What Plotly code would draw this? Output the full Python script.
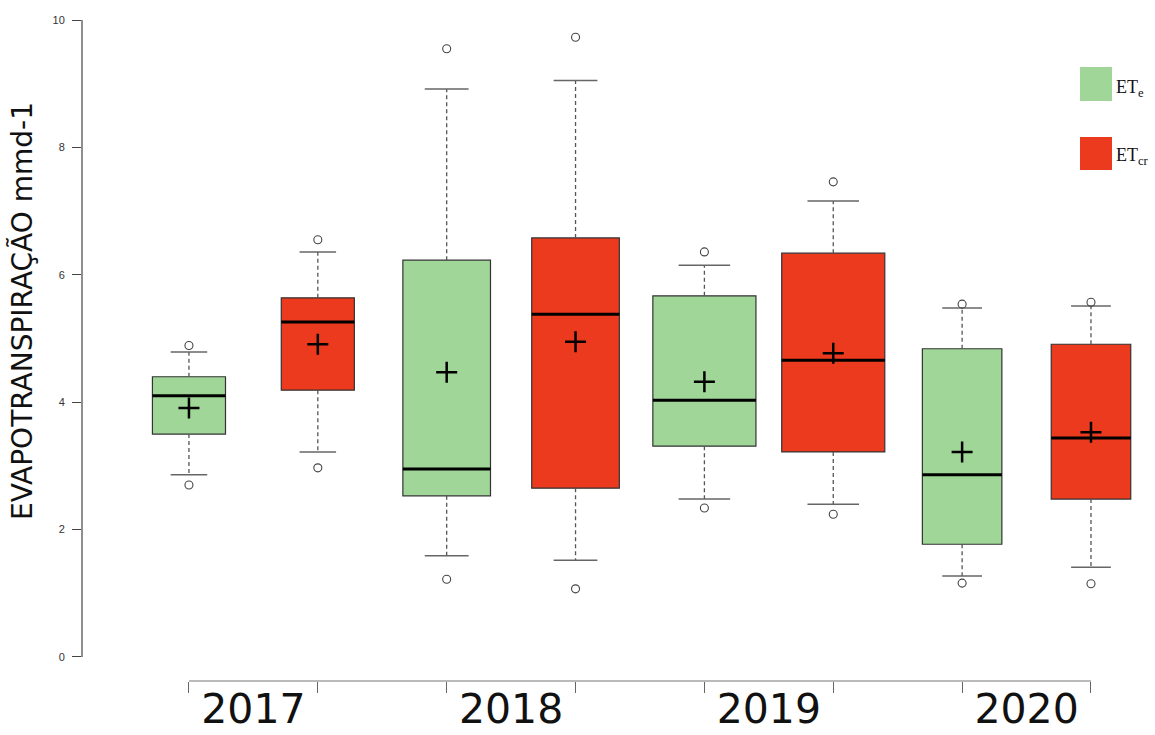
import plotly.graph_objects as go

# ---------------- data ----------------
years = ["2017", "2018", "2019", "2020"]
series_names = ["ETe", "ETcr"]

ete_q1 = [3.50, 2.53, 3.31, 1.77]
ete_median = [4.10, 2.95, 4.03, 2.86]
ete_q3 = [4.40, 6.23, 5.67, 4.84]
ete_whisker_low = [2.86, 1.59, 2.48, 1.27]
ete_whisker_high = [4.79, 8.92, 6.15, 5.48]
ete_mean = [3.91, 4.47, 4.32, 3.22]
ete_out_low = [2.70, 1.22, 2.34, 1.16]
ete_out_high = [4.89, 9.55, 6.36, 5.54]

etcr_q1 = [4.19, 2.65, 3.22, 2.48]
etcr_median = [5.26, 5.38, 4.66, 3.44]
etcr_q3 = [5.64, 6.58, 6.34, 4.91]
etcr_whisker_low = [3.22, 1.52, 2.40, 1.41]
etcr_whisker_high = [6.36, 9.05, 7.16, 5.51]
etcr_mean = [4.91, 4.95, 4.77, 3.53]
etcr_out_low = [2.97, 1.07, 2.24, 1.15]
etcr_out_high = [6.55, 9.73, 7.46, 5.57]

y_ticks = [0, 2, 4, 6, 8, 10]

# ---------------- styling / layout ----------------
box_widths = [0.567, 0.68, 0.80, 0.617]   # relative box widths per year (varwidth look)
colors = {"ETe": "#A0D798", "ETcr": "#EC3A1E"}
W, H = 1155, 735
ML, MR, MT, MB = 82, 5, 15, 54

series = {
    "ETe": dict(q1=ete_q1, med=ete_median, q3=ete_q3, wl=ete_whisker_low,
                wh=ete_whisker_high, mean=ete_mean, ol=ete_out_low, oh=ete_out_high, offset=1),
    "ETcr": dict(q1=etcr_q1, med=etcr_median, q3=etcr_q3, wl=etcr_whisker_low,
                 wh=etcr_whisker_high, mean=etcr_mean, ol=etcr_out_low, oh=etcr_out_high, offset=2),
}

fig = go.Figure()
all_pos = []
for name in series_names:
    s = series[name]
    pos = [2 * i + s["offset"] for i in range(len(years))]
    all_pos += pos
    heights = [b - a for a, b in zip(s["q1"], s["q3"])]

    # dashed whiskers
    wx, wy = [], []
    for p, a, b, lo, hi in zip(pos, s["q1"], s["q3"], s["wl"], s["wh"]):
        wx += [p, p, None, p, p, None]
        wy += [b, hi, None, a, lo, None]
    fig.add_trace(go.Scatter(x=wx, y=wy, mode="lines",
                             line=dict(color="#555555", width=1.3, dash="4px,3px"),
                             hoverinfo="skip"))
    # whisker caps
    cx, cy = [], []
    for p, w, lo, hi in zip(pos, box_widths, s["wl"], s["wh"]):
        cx += [p - w / 4, p + w / 4, None, p - w / 4, p + w / 4, None]
        cy += [hi, hi, None, lo, lo, None]
    fig.add_trace(go.Scatter(x=cx, y=cy, mode="lines",
                             line=dict(color="#666666", width=1.5), hoverinfo="skip"))
    # boxes
    fig.add_trace(go.Bar(x=pos, y=heights, base=s["q1"], width=box_widths, name=name,
                         marker=dict(color=colors[name], line=dict(color="#333333", width=1.2))))
    # medians
    mx, my = [], []
    for p, w, m in zip(pos, box_widths, s["med"]):
        mx += [p - w / 2, p + w / 2, None]
        my += [m, m, None]
    fig.add_trace(go.Scatter(x=mx, y=my, mode="lines",
                             line=dict(color="#000000", width=3), hoverinfo="skip"))
    # means
    fig.add_trace(go.Scatter(x=pos, y=s["mean"], mode="markers",
                             marker=dict(symbol="cross-thin", size=15, color="#000000",
                                         line=dict(color="#000000", width=2.5))))
    # outliers
    fig.add_trace(go.Scatter(x=pos + pos, y=s["ol"] + s["oh"], mode="markers",
                             marker=dict(symbol="circle-open", size=8, color="#444444",
                                         line=dict(color="#444444", width=1.1)),
                             cliponaxis=False))

pw, ph = W - ML - MR, H - MT - MB


def px_x(v):
    return (v - ML) / pw


def px_y(v):
    return (H - MB - v) / ph


label_pos = [2 * i + 1.5 for i in range(len(years))]

fig.update_layout(
    width=W, height=H, margin=dict(l=ML, r=MR, t=MT, b=MB, autoexpand=False),
    paper_bgcolor="white", plot_bgcolor="white",
    barmode="overlay", showlegend=False,
    xaxis=dict(range=[0.170, 8.458], showgrid=False, zeroline=False, showline=False,
               automargin=False,
               tickmode="array", tickvals=label_pos, ticktext=years, ticks="",
               tickfont=dict(family="DejaVu Sans", size=41, color="#111111"),
               ticklabelstandoff=0,
               minor=dict(tickmode="array", tickvals=sorted(all_pos), ticks="outside",
                          ticklen=11, tickcolor="#666666", tickwidth=1)),
    yaxis=dict(range=[-0.377, 10.08], showgrid=False, zeroline=False, showline=False,
               automargin=False,
               tickmode="array", tickvals=y_ticks, ticks="outside", ticklen=9,
               tickcolor="#444444", tickwidth=1, ticklabelstandoff=5,
               tickfont=dict(family="Liberation Sans", size=11, color="#333333")),
    shapes=[
        dict(type="line", xref="paper", yref="y", x0=0, x1=0, y0=y_ticks[0], y1=y_ticks[-1],
             line=dict(color="#444444", width=1.2)),
        dict(type="line", xref="x", yref="paper", x0=min(all_pos), x1=max(all_pos), y0=0, y1=0,
             line=dict(color="#777777", width=1.2)),
        dict(type="rect", xref="paper", yref="paper", x0=px_x(1080), x1=px_x(1112),
             y0=px_y(101), y1=px_y(67), fillcolor=colors["ETe"], line=dict(width=0)),
        dict(type="rect", xref="paper", yref="paper", x0=px_x(1080), x1=px_x(1112),
             y0=px_y(170), y1=px_y(137), fillcolor=colors["ETcr"], line=dict(width=0)),
    ],
    annotations=[
        dict(text="EVAPOTRANSPIRAÇÃO mmd-1", textangle=-90, xref="paper", yref="paper",
             x=px_x(22), y=px_y(311), xanchor="center", yanchor="middle", showarrow=False,
             font=dict(family="DejaVu Sans", size=28, color="#111111")),
        dict(text="ET<sub>e</sub>", xref="paper", yref="paper", x=px_x(1114), y=px_y(88),
             xanchor="left", yanchor="middle", showarrow=False,
             font=dict(family="Liberation Serif", size=18, color="#111111")),
        dict(text="ET<sub>cr</sub>", xref="paper", yref="paper", x=px_x(1114), y=px_y(157),
             xanchor="left", yanchor="middle", showarrow=False,
             font=dict(family="Liberation Serif", size=18, color="#111111")),
    ],
)

fig.write_html("out.html")
